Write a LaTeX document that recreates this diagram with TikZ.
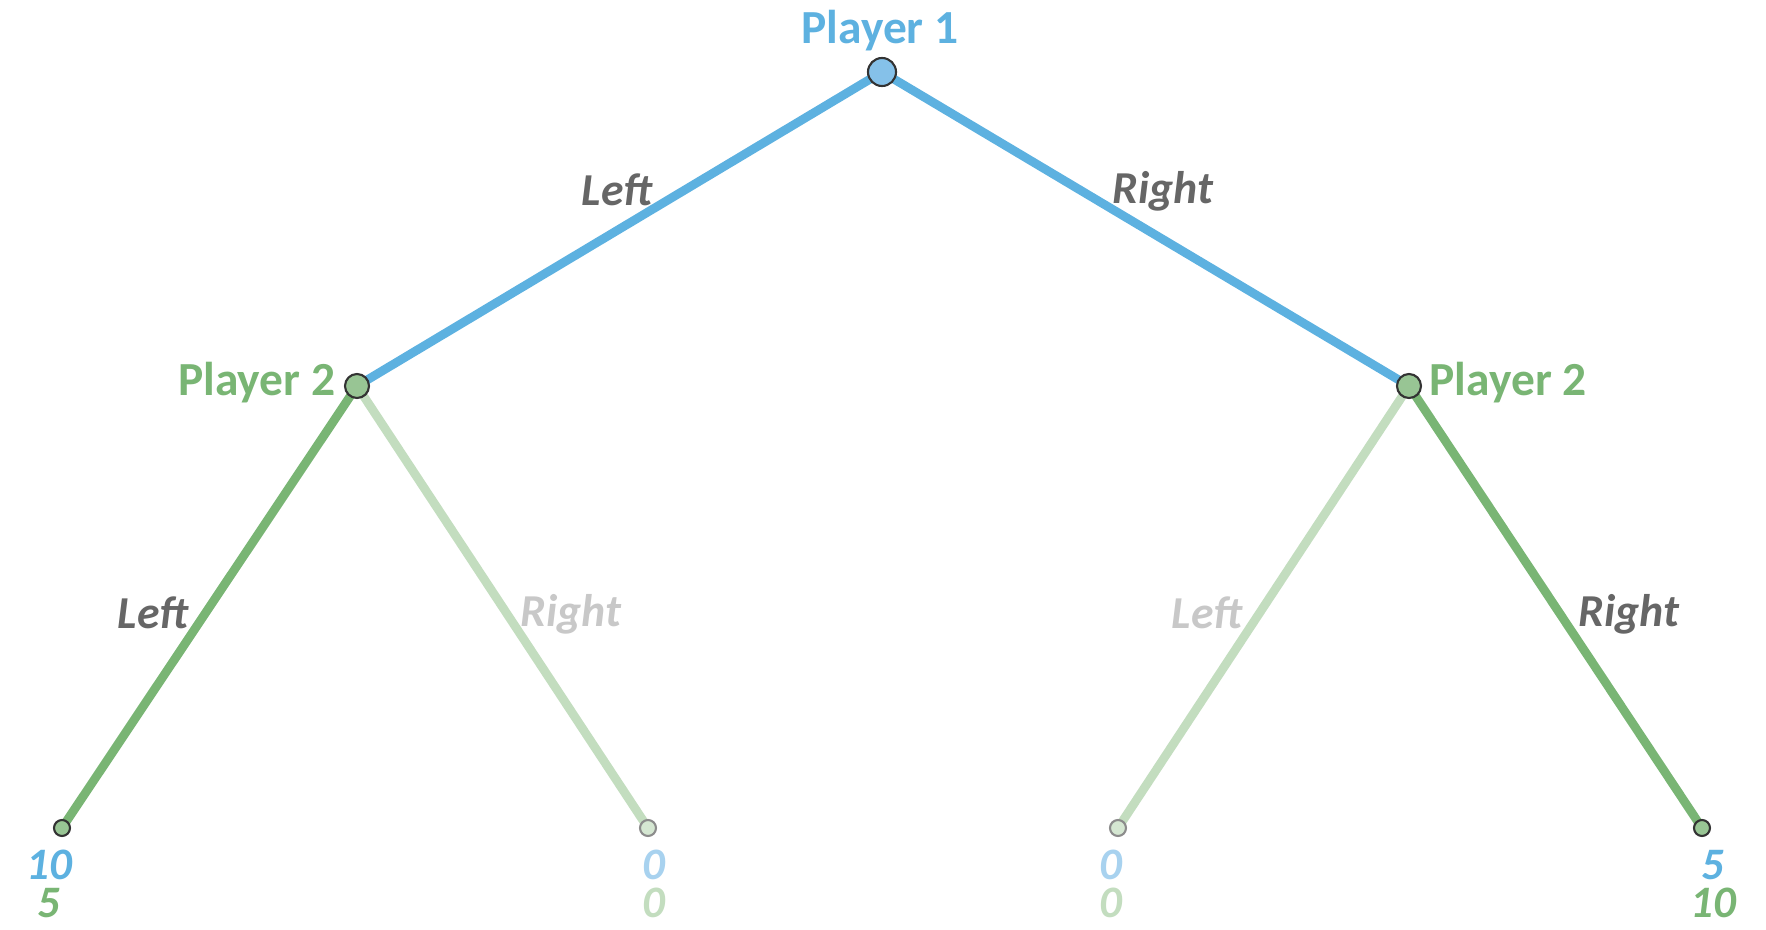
\documentclass[tikz,border=0pt]{standalone}
\usepackage{fontspec}
\setmainfont{Carlito}
\usetikzlibrary{backgrounds}
\definecolor{blau}{HTML}{5DB1E0}
\definecolor{blaum}{HTML}{85C1E9}
\definecolor{blaul}{HTML}{A8D2EF}
\definecolor{gruen}{HTML}{79B574}
\definecolor{gruenm}{HTML}{98C594}
\definecolor{gruenl}{HTML}{C3DDBF}
\definecolor{gruenll}{HTML}{D5E7D2}
\definecolor{grau}{HTML}{666666}
\definecolor{graul}{HTML}{C8C8C8}
\tikzset{
  knoten/.style={circle,draw=black!80,line width=0.6pt,inner sep=0pt},
  blatt/.style={knoten,minimum size=0.16cm,fill=gruenm},
  blattl/.style={knoten,minimum size=0.16cm,fill=gruenll,draw=black!45},
  spieler/.style={font=\fontsize{13.5}{16}\selectfont\bfseries},
  zug/.style={font=\fontsize{13}{16}\selectfont\bfseries\itshape,text=grau},
  zugl/.style={zug,text=graul},
  wert/.style={font=\fontsize{12.8}{11}\selectfont\bfseries\itshape,inner sep=0pt,align=center},
  ast/.style={line width=2.5pt}
}
\begin{document}
\begin{tikzpicture}[x=0.01cm,y=-0.01cm]
  \useasboundingbox (0,0) rectangle (1766,930);
  % Knoten
  \node[knoten,minimum size=0.28cm,fill=blaum] (p1) at (882,72) {};
  \node[knoten,minimum size=0.24cm,fill=gruenm] (p2l) at (357,386) {};
  \node[knoten,minimum size=0.24cm,fill=gruenm] (p2r) at (1409,386) {};
  \node[blatt] (ll) at (62,828) {};
  \node[blattl] (lr) at (648,828) {};
  \node[blattl] (rl) at (1118,828) {};
  \node[blatt] (rr) at (1702,828) {};
  % Aeste
  \begin{scope}[on background layer]
    \draw[ast,blau] (p1.center)--(p2l.center); \draw[ast,blau] (p1.center)--(p2r.center);
    \draw[ast,gruen] (p2l.center)--(ll.center); \draw[ast,gruenl] (p2l.center)--(lr.center);
    \draw[ast,gruenl] (p2r.center)--(rl.center); \draw[ast,gruen] (p2r.center)--(rr.center);
  \end{scope}
  % Beschriftung
  \node[spieler,text=blau] (t1) at (880,31) {Player 1};
  \node[spieler,text=gruen,left,inner sep=0pt] (t2l) at (336,383) {Player 2};
  \node[spieler,text=gruen,right,inner sep=0pt] (t2r) at (1429,383) {Player 2};
  \node[zug] (zl) at (617,190) {Left};
  \node[zug] (zr) at (1163,191) {Right};
  \node[zug] (zll) at (153,613) {Left};
  \node[zugl] (zlr) at (571,614) {Right};
  \node[zugl] (zrl) at (1207,613) {Left};
  \node[zug] (zrr) at (1629,614) {Right};
  % Auszahlungen
  \node[wert] (w1) at (49,884) {\textcolor{blau}{10}\\\textcolor{gruen}{5}};
  \node[wert] (w2) at (654,884) {\textcolor{blaul}{0}\\\textcolor{gruenl}{0}};
  \node[wert] (w3) at (1111,884) {\textcolor{blaul}{0}\\\textcolor{gruenl}{0}};
  \node[wert] (w4) at (1713,884) {\textcolor{blau}{5}\\\textcolor{gruen}{10}};
\end{tikzpicture}
\end{document}
